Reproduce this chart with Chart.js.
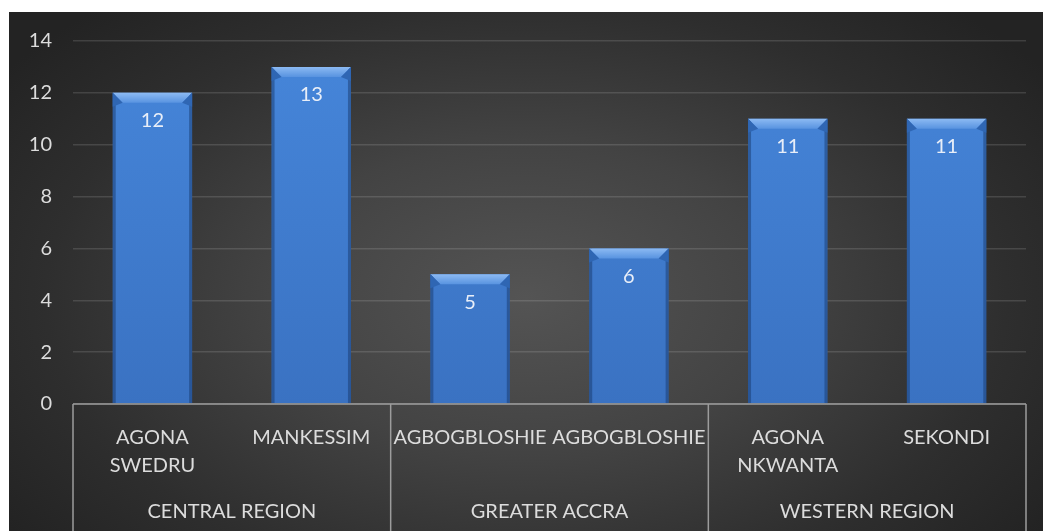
<!DOCTYPE html>
<html>
<head>
<meta charset="utf-8">
<script src="https://cdn.jsdelivr.net/npm/chart.js@4"></script>
<style>
  html, body { margin: 0; padding: 0; background: #fff; }
  #bg {
    position: absolute; left: 9px; top: 12px; width: 1034px; height: 519px;
    background: radial-gradient(ellipse 62% 75% at 50% 55%, #545454 0%, #434343 40%, #2e2e2e 75%, #232323 100%);
  }
  #wrap { position: absolute; left: 9px; top: 8px; width: 1034px; height: 523px; }
</style>
</head>
<body>
<div id="bg"></div>
<div id="wrap"><canvas id="chart"></canvas></div>
<script>
// data
const categories = [['AGONA', 'SWEDRU'], 'MANKESSIM', 'AGBOGBLOSHIE', 'AGBOGBLOSHIE', ['AGONA', 'NKWANTA'], 'SEKONDI'];
const regions = ['CENTRAL REGION', 'GREATER ACCRA', 'WESTERN REGION'];
const regionSizes = [2, 2, 2];
const values = [12, 13, 5, 6, 11, 11];
const yMin = 0, yMax = 14, yStep = 2;

const FONT = 'Lato, "Open Sans", sans-serif';
const TEXT = '#dcdcdc';

/* bevel look on top of each bar */
const bevelPlugin = {
    id: 'bevel',
    afterDatasetsDraw(chart) {
        const ctx = chart.ctx;
        chart.getDatasetMeta(0).data.forEach(bar => {
            const w = bar.width, l = bar.x - w / 2, r = bar.x + w / 2, t = bar.y, b = bar.base;
            const d = 10;
            ctx.save();
            // side shading
            ctx.fillStyle = 'rgba(20,50,100,0.45)';
            ctx.fillRect(l, t, 3, b - t);
            ctx.fillRect(r - 3, t, 3, b - t);
            // top chamfer
            let g = ctx.createLinearGradient(0, t, 0, t + d);
            g.addColorStop(0, '#8cbaf3');
            g.addColorStop(1, '#5893e0');
            ctx.fillStyle = g;
            ctx.beginPath();
            ctx.moveTo(l, t); ctx.lineTo(r, t); ctx.lineTo(r - d, t + d); ctx.lineTo(l + d, t + d);
            ctx.closePath(); ctx.fill();
            // chamfer sides
            ctx.fillStyle = '#2f66b3';
            ctx.beginPath();
            ctx.moveTo(l, t); ctx.lineTo(l + d, t + d); ctx.lineTo(l, t + d + 4); ctx.closePath(); ctx.fill();
            ctx.beginPath();
            ctx.moveTo(r, t); ctx.lineTo(r - d, t + d); ctx.lineTo(r, t + d + 4); ctx.closePath(); ctx.fill();
            ctx.restore();
        });
    }
};

/* value labels inside bars */
const valueLabels = {
    id: 'valueLabels',
    afterDatasetsDraw(chart) {
        const ctx = chart.ctx;
        ctx.save();
        ctx.font = '20px ' + FONT;
        ctx.fillStyle = '#e8eef8';
        ctx.textAlign = 'center';
        ctx.textBaseline = 'middle';
        chart.getDatasetMeta(0).data.forEach((bar, i) => {
            ctx.fillText(String(values[i]), bar.x, bar.y + 28);
        });
        ctx.restore();
    }
};

/* region level of the category axis */
const regionAxis = {
    id: 'regionAxis',
    afterDraw(chart) {
        const ctx = chart.ctx, x = chart.scales.x, area = chart.chartArea;
        const step = x.getPixelForValue(1) - x.getPixelForValue(0);
        const bottom = chart.height;
        ctx.save();
        ctx.strokeStyle = '#9c9c9c';
        ctx.lineWidth = 1.5;
        let idx = 0;
        const edges = [x.getPixelForValue(0) - step / 2];
        regions.forEach((name, k) => {
            const first = idx, last = idx + regionSizes[k] - 1;
            const left = x.getPixelForValue(first) - step / 2;
            const right = x.getPixelForValue(last) + step / 2;
            edges.push(right);
            ctx.font = '20px ' + FONT;
            ctx.fillStyle = TEXT;
            ctx.textAlign = 'center';
            ctx.textBaseline = 'middle';
            ctx.fillText(name, (left + right) / 2, area.bottom + 108);
            idx += regionSizes[k];
        });
        edges.forEach(ex => {
            ctx.beginPath();
            ctx.moveTo(ex, area.bottom);
            ctx.lineTo(ex, bottom);
            ctx.stroke();
        });
        ctx.beginPath();
        ctx.moveTo(edges[0], area.bottom);
        ctx.lineTo(edges[edges.length - 1], area.bottom);
        ctx.stroke();
        ctx.restore();
    }
};

function barGradient(context) {
    const chart = context.chart;
    const area = chart.chartArea;
    if (!area) return '#3f7fd0';
    const g = chart.ctx.createLinearGradient(0, area.top, 0, area.bottom);
    g.addColorStop(0, '#4686da');
    g.addColorStop(1, '#3a72c2');
    return g;
}

const chart = new Chart(document.getElementById('chart'), {
    type: 'bar',
    data: {
        labels: categories,
        datasets: [{
            data: values,
            backgroundColor: barGradient,
            borderWidth: 0,
            categoryPercentage: 1,
            barPercentage: 0.5
        }]
    },
    options: {
        responsive: true,
        maintainAspectRatio: false,
        animation: false,
        layout: { padding: { left: 0, right: 17, top: 20, bottom: 0 } },
        plugins: { legend: { display: false }, tooltip: { enabled: false } },
        scales: {
            x: {
                grid: { display: false, drawTicks: false },
                border: { display: false },
                ticks: {
                    color: TEXT,
                    font: { family: FONT, size: 20, lineHeight: '28px' },
                    padding: 20,
                    maxRotation: 0,
                    autoSkip: false
                },
                afterFit(scale) { scale.height = 127; }
            },
            y: {
                min: yMin,
                max: yMax,
                ticks: {
                    stepSize: yStep,
                    color: TEXT,
                    font: { family: FONT, size: 20 },
                    padding: 21
                },
                grid: { color: 'rgba(255,255,255,0.13)', lineWidth: 1.5, drawTicks: false },
                border: { display: false },
                afterFit(scale) { scale.width = 64; }
            }
        }
    },
    plugins: [bevelPlugin, valueLabels, regionAxis]
});
</script>
</body>
</html>
